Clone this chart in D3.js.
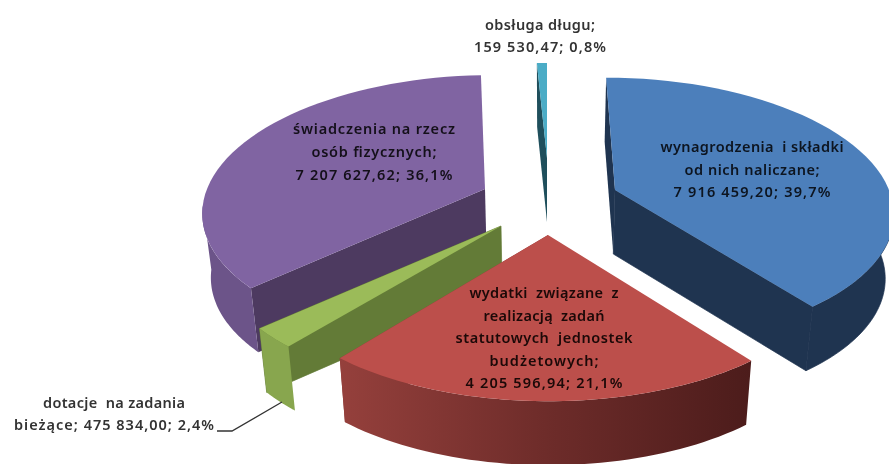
<!DOCTYPE html>
<html><head><meta charset="utf-8">
<script src="https://cdn.jsdelivr.net/npm/d3@7"></script>
<style>html,body{margin:0;padding:0;background:#fff;overflow:hidden}svg{display:block;filter:blur(.45px)}text{font-family:"Noto Sans",sans-serif;font-weight:600;text-anchor:middle}</style>
</head><body><svg id="c" width="889" height="464"></svg>
<script>
const categories = ["wynagrodzenia i składki od nich naliczane","wydatki związane z realizacją zadań statutowych jednostek budżetowych","dotacje na zadania bieżące","świadczenia na rzecz osób fizycznych","obsługa długu"];
const values = [7916459.20,4205596.94,475834.00,7207627.62,159530.47];
const shares = [39.7,21.1,2.4,36.1,0.8];
const labelLines = [
 ["wynagrodzenia  i składki","od nich naliczane;","7 916 459,20; 39,7%"],
 ["wydatki  związane  z","realizacją  zadań","statutowych  jednostek","budżetowych;","4 205 596,94; 21,1%"],
 ["dotacje  na zadania","bieżące; 475 834,00; 2,4%"],
 ["świadczenia na rzecz","osób fizycznych;","7 207 627,62; 36,1%"],
 ["obsługa długu;","159 530,47; 0,8%"]
];
// layout and styling
const labelWidths = [[183,135,157],[149,121,177,109,157],[142,200],[162,125,157],[110,132]];
const apex = [[615,190],[548,235],[501,226],[485,189],[547,158]];
const labelAt = [[752,152,22.5],[544,298,22.5],[114,408,22],[374,134,23],[540,30,22]];
const labelFill = ["#0d1520","#1c0908","#333","#14101a","#333"];
const topFill = ["#4c7fbb","#bc4f4b","#9bbb59","#8064a2","#4bacc6"];
const radialFill = ["#1f3450","#8a3a36","#637b37","#4d3a60","#1f4f5c"];
const rimFill = ["#1f3450","url(#redRim)","#88a64e","#6c5489","#1f4f5c"];
const R=[274,282,276,278,242], PS=[.15,.2,.2,.15,.2], KY=132/280, T=64, CX=547;

const svg=d3.select("#c");
const g=svg.append("defs").append("linearGradient").attr("id","redRim");
[[0,"#95403c"],[.5,"#6e2c2a"],[1,"#4c1c1b"]].forEach(d=>g.append("stop").attr("offset",d[0]).attr("stop-color",d[1]));

const pie=d3.pie().sort(null).value(d=>d).startAngle(0).endAngle(2*Math.PI);
const arcs=pie(values);
const line=d3.line();
function rim(i,a){
  const u=Math.sin(a),v=-Math.cos(a),s=1/(1-PS[i]*v);
  return [apex[i][0]+u*R[i]*s+(apex[i][0]-CX)*(s-1), apex[i][1]+v*R[i]*KY*s];
}
const drop=p=>[p[0]+(CX-p[0])*0.025,p[1]+T];
const angles=(a,b)=>d3.range(0,49).map(k=>a+(b-a)*k/48);
function poly(pts,fill,seam){const p=svg.append("path").attr("d",line(pts)+"Z").attr("fill",fill);if(seam)p.attr("stroke",fill).attr("stroke-width",.7);}

[4,0,3,2,1].forEach(i=>{
  const d=arcs[i],A=apex[i],arcPts=angles(d.startAngle,d.endAngle).map(a=>rim(i,a));
  const first=arcPts[0],last=arcPts[arcPts.length-1];
  if(i==0||i==4) poly([first,A,drop(A),drop(first)],radialFill[i]);
  if(i==0||i==2) poly([A,last,drop(last),drop(A)],radialFill[i],true);
  if(i==3) poly([A,first,drop(first),drop(A)],radialFill[i]);
  if(i==1) poly([A,last,drop(last),drop(A)],radialFill[i]);
  const lo=Math.max(d.startAngle,Math.PI/2),hi=Math.min(d.endAngle,Math.PI*1.46);
  if(hi>lo){const w=angles(lo,hi).map(a=>rim(i,a));poly(w.concat(w.slice().reverse().map(drop)),rimFill[i],i==0);}
  poly([A].concat(arcPts),topFill[i]);
});

const ln=[[217,431],[232,431],[282,402]];
svg.append("path").attr("d",line(ln)).attr("fill","none").attr("stroke","#333").attr("stroke-width",1.3);

labelLines.forEach((ls,i)=>{
  ls.forEach((s,j)=>svg.append("text").attr("fill",labelFill[i]).style("font-size","14.5px")
    .attr("x",labelAt[i][0]).attr("y",labelAt[i][1]+j*labelAt[i][2])
    .attr("textLength",labelWidths[i][j]).attr("lengthAdjust","spacing")
    .attr("xml:space","preserve").text(s));
});
</script></body></html>
